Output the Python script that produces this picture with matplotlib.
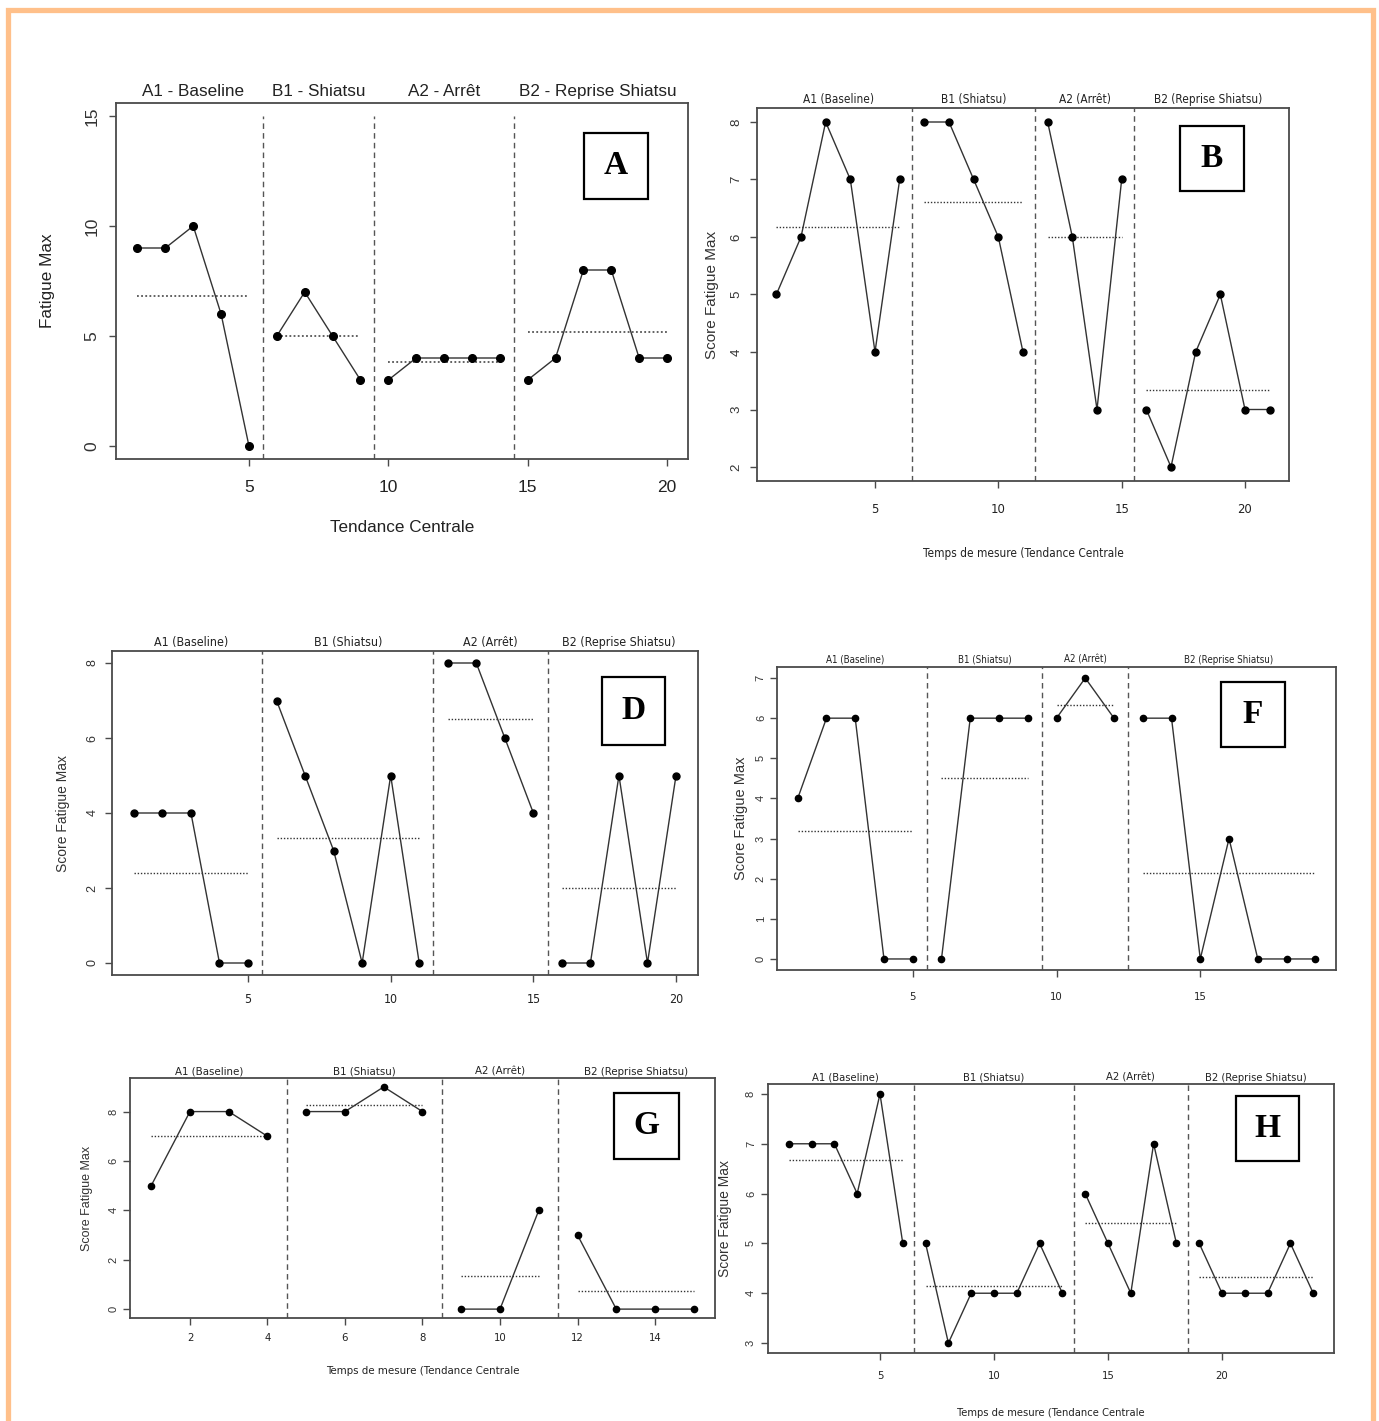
import matplotlib
matplotlib.use('Agg')
import matplotlib.pyplot as plt
from matplotlib import font_manager as fm
from matplotlib.patches import Rectangle
import numpy as np

# ---------------- data ----------------
phases_A = ["A1 - Baseline", "B1 - Shiatsu", "A2 - Arrêt", "B2 - Reprise Shiatsu"]
phases_R = ["A1 (Baseline)", "B1 (Shiatsu)", "A2 (Arrêt)", "B2 (Reprise Shiatsu)"]

scores_A = [9, 9, 10, 6, 0, 5, 7, 5, 3, 3, 4, 4, 4, 4, 3, 4, 8, 8, 4, 4]
lengths_A = [5, 4, 5, 6]

scores_B = [5, 6, 8, 7, 4, 7, 8, 8, 7, 6, 4, 8, 6, 3, 7, 3, 2, 4, 5, 3, 3]
lengths_B = [6, 5, 4, 6]

scores_D = [4, 4, 4, 0, 0, 7, 5, 3, 0, 5, 0, 8, 8, 6, 4, 0, 0, 5, 0, 5]
lengths_D = [5, 6, 4, 5]

scores_F = [4, 6, 6, 0, 0, 0, 6, 6, 6, 6, 7, 6, 6, 6, 0, 3, 0, 0, 0]
lengths_F = [5, 4, 3, 7]

scores_G = [5, 8, 8, 7, 8, 8, 9, 8, 0, 0, 4, 3, 0, 0, 0]
lengths_G = [4, 4, 3, 4]

scores_H = [7, 7, 7, 6, 8, 5, 5, 3, 4, 4, 4, 5, 4, 6, 5, 4, 7, 5, 5, 4, 4, 4, 5, 4]
lengths_H = [6, 7, 5, 6]

xticks_A = [5, 10, 15, 20]; yticks_A = [0, 5, 10, 15]
xticks_B = [5, 10, 15, 20]; yticks_B = [2, 3, 4, 5, 6, 7, 8]
xticks_D = [5, 10, 15, 20]; yticks_D = [0, 2, 4, 6, 8]
xticks_F = [5, 10, 15];     yticks_F = [0, 1, 2, 3, 4, 5, 6, 7]
xticks_G = [2, 4, 6, 8, 10, 12, 14]; yticks_G = [0, 2, 4, 6, 8]
xticks_H = [5, 10, 15, 20]; yticks_H = [3, 4, 5, 6, 7, 8]

ylabel_A = "Fatigue Max"
xlabel_A = "Tendance Centrale"
ylabel_R = "Score Fatigue Max"
xlabel_R = "Temps de mesure (Tendance Centrale"

# ---------------- fonts ----------------
names = {(f.name, f.stretch) for f in fm.fontManager.ttflist}
fam_names = {f.name for f in fm.fontManager.ttflist}
if "Liberation Sans Narrow" in fam_names:
    NARROW = dict(family="Liberation Sans Narrow")
    nscale = 1.0
elif any(n == "DejaVu Sans" and s == "condensed" for n, s in names):
    NARROW = dict(family="DejaVu Sans", stretch="condensed")
    nscale = 0.85
else:
    NARROW = dict(family="Liberation Sans")
    nscale = 0.85
SANS = dict(family="Liberation Sans")
SERIF = dict(family="Liberation Serif", weight="bold")

W, H = 1379, 1421
fig = plt.figure(figsize=(W / 100, H / 100), dpi=100)
fig.patch.set_facecolor("white")

# orange frame
fig.patches.append(Rectangle((7.5 / W, -0.05), (1372.5 - 7.5) / W, 1.05 - 9.5 / H,
                             transform=fig.transFigure, fill=False,
                             edgecolor="#FFC08A", linewidth=3.8, zorder=0))

SPINE = "#4a4a4a"


def make_ax(box):
    l, t, r, b = box
    return fig.add_axes([l / W, 1 - b / H, (r - l) / W, (b - t) / H])


def panel(box, scores, lengths, titles, xticks, yticks, yrange, letter, letter_box,
          title_font, title_size, xt_font, xt_size, yt_size, ms, xpad, ypad,
          title_off, div_top=None, mean_color="#333333", mean_lw=1.0, tick_len=5):
    ax = make_ax(box)
    n = len(scores)
    x = np.arange(1, n + 1)
    y = np.asarray(scores, dtype=float)
    ax.set_xlim(1 - 0.04 * (n - 1), n + 0.04 * (n - 1))
    lo, hi = yrange
    ylo, yhi = lo - 0.04 * (hi - lo), hi + 0.04 * (hi - lo)
    ax.set_ylim(ylo, yhi)
    start = 0
    for k, L in enumerate(lengths):
        xs = x[start:start + L]
        ys = y[start:start + L]
        ax.plot(xs, ys, "-", color="#333333", lw=1.0, marker="o", ms=ms,
                mfc="black", mec="black", zorder=3)
        m = ys.mean()
        ax.plot([xs[0], xs[-1]], [m, m], linestyle=(0, (1, 1.3)),
                color=mean_color, lw=mean_lw, zorder=2)
        ax.annotate(titles[k], xy=(xs.mean(), 1.0), xycoords=("data", "axes fraction"),
                    xytext=(0, title_off), textcoords="offset points",
                    ha="center", va="bottom", fontsize=title_size, color="#222222",
                    **title_font)
        if k < len(lengths) - 1:
            xd = xs[-1] + 0.5
            top = yhi if div_top is None else div_top
            ax.plot([xd, xd], [ylo, top], linestyle=(0, (4, 3)), color="#555555",
                    lw=1.0, zorder=1)
        start += L
    ax.set_xticks(xticks)
    ax.set_xticklabels([str(v) for v in xticks], fontsize=xt_size, color="#222222",
                       **xt_font)
    ax.set_yticks(yticks)
    ax.set_yticklabels([str(v) for v in yticks], rotation=90, va="center",
                       fontsize=yt_size, color="#333333", **SANS)
    ax.tick_params(axis="x", direction="out", length=tick_len, width=1.0,
                   color=SPINE, pad=xpad)
    ax.tick_params(axis="y", direction="out", length=tick_len, width=1.0,
                   color=SPINE, pad=ypad)
    for s in ax.spines.values():
        s.set_color(SPINE)
        s.set_linewidth(1.3)
    # letter box
    bl, bb, br, bt = letter_box
    ax.add_patch(Rectangle((bl, bb), br - bl, bt - bb, transform=ax.transAxes,
                           fill=True, facecolor="white", edgecolor="black",
                           lw=1.6, zorder=5))
    ax.text((bl + br) / 2, (bb + bt) / 2, letter, transform=ax.transAxes,
            ha="center", va="center", fontsize=24, zorder=6, **SERIF)
    return ax


# ---------------- Panel A ----------------
boxA = (116.3, 102.8, 688.2, 459.2)
panel(boxA, scores_A, lengths_A, phases_A, xticks_A, yticks_A, (0, 15), "A",
      (0.818, 0.730, 0.930, 0.916),
      SANS, 12.3, SANS, 12.5, 12.5, 5.5, 10, 7, 2.5, div_top=15,
      mean_color="#555555", mean_lw=1.3, tick_len=5)
fig.text(47 / W, 1 - 281 / H, ylabel_A, rotation=90, ha="center", va="center",
         fontsize=12.3, color="#222222", **SANS)
fig.text(402 / W, 1 - 527 / H, xlabel_A, ha="center", va="center",
         fontsize=12.3, color="#222222", **SANS)

# ---------------- Panel B ----------------
boxB = (756.6, 108.2, 1289.4, 480.8)
panel(boxB, scores_B, lengths_B, phases_R, xticks_B, yticks_B, (2, 8), "B",
      (0.795, 0.777, 0.914, 0.952),
      NARROW, 10 * nscale, NARROW, 11 * nscale, 9.5, 5, 11, 5, 1.5)
fig.text(712 / W, 1 - 294.5 / H, ylabel_R, rotation=90, ha="center", va="center",
         fontsize=11, color="#333333", **SANS)
fig.text(1023 / W, 1 - 553 / H, xlabel_R, ha="center", va="center",
         fontsize=10 * nscale, color="#222222", **NARROW)

# ---------------- Panel D ----------------
boxD = (112.2, 651.0, 697.7, 975.0)
panel(boxD, scores_D, lengths_D, phases_R, xticks_D, yticks_D, (0, 8), "D",
      (0.836, 0.711, 0.944, 0.919),
      NARROW, 10.5 * nscale, NARROW, 10.5 * nscale, 9, 5, 8, 5, 1.5)
fig.text(63 / W, 1 - 813 / H, ylabel_R, rotation=90, ha="center", va="center",
         fontsize=10, color="#333333", **SANS)

# ---------------- Panel F ----------------
boxF = (777.0, 666.8, 1336.0, 970.2)
panel(boxF, scores_F, lengths_F, phases_R, xticks_F, yticks_F, (0, 7), "F",
      (0.794, 0.736, 0.909, 0.950),
      NARROW, 8.3 * nscale, NARROW, 9.5 * nscale, 8, 4.5, 11, 3, 1.5)
fig.text(741 / W, 1 - 818 / H, ylabel_R, rotation=90, ha="center", va="center",
         fontsize=10.5, color="#333333", **SANS)

# ---------------- Panel G ----------------
boxG = (129.5, 1078.0, 715.5, 1318.0)
panel(boxG, scores_G, lengths_G, phases_R, xticks_G, yticks_G, (0, 9), "G",
      (0.827, 0.6625, 0.937, 0.9375),
      NARROW, 9.6 * nscale, NARROW, 9.5 * nscale, 8, 4.5, 6, 3, 1.0)
fig.text(87 / W, 1 - 1198 / H, ylabel_R, rotation=90, ha="center", va="center",
         fontsize=9, color="#333333", **SANS)
fig.text(422.5 / W, 1 - 1371 / H, xlabel_R, ha="center", va="center",
         fontsize=9.6 * nscale, color="#222222", **NARROW)

# ---------------- Panel H ----------------
boxH = (767.8, 1084.0, 1334.2, 1353.0)
panel(boxH, scores_H, lengths_H, phases_R, xticks_H, yticks_H, (3, 8), "H",
      (0.826, 0.714, 0.937, 0.955),
      NARROW, 9.4 * nscale, NARROW, 9.5 * nscale, 8, 4.5, 8, 3.5, 1.0)
fig.text(725 / W, 1 - 1218.5 / H, ylabel_R, rotation=90, ha="center", va="center",
         fontsize=10, color="#333333", **SANS)
fig.text(1051 / W, 1 - 1413 / H, xlabel_R, ha="center", va="center",
         fontsize=9.4 * nscale, color="#222222", **NARROW)

fig.savefig("out.png", dpi=100, facecolor="white")
